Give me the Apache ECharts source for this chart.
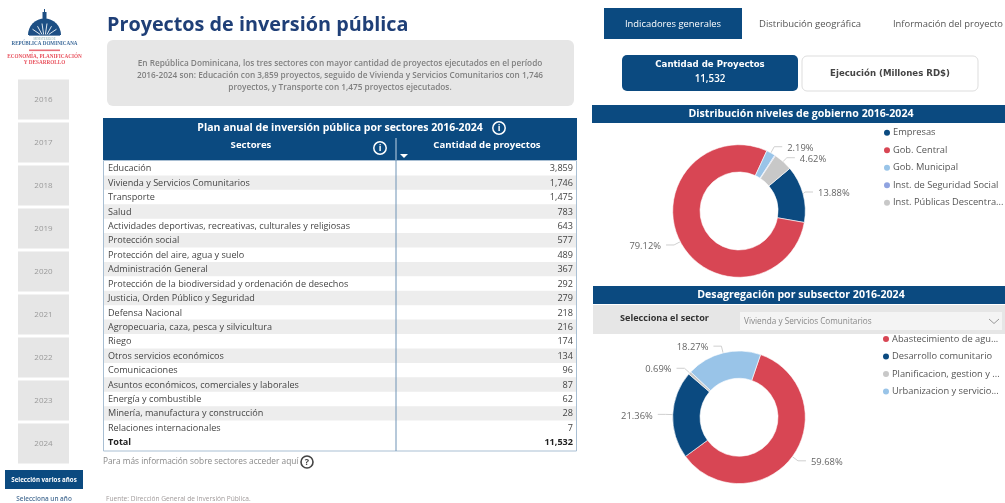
<!DOCTYPE html>
<html><head><meta charset="utf-8">
<style>html,body{margin:0;padding:0;background:#fff}#c{width:1005px;height:503px}</style>
<script src="https://cdn.jsdelivr.net/npm/echarts@6/dist/echarts.min.js"></script>
</head><body><div id="c"></div>
<script>
const years = ['2016','2017','2018','2019','2020','2021','2022','2023','2024'];
const sectors = ['Educación','Vivienda y Servicios Comunitarios','Transporte','Salud','Actividades deportivas, recreativas, culturales y religiosas','Protección social','Protección del aire, agua y suelo','Administración General','Protección de la biodiversidad y ordenación de desechos','Justicia, Orden Público y Seguridad','Defensa Nacional','Agropecuaria, caza, pesca y silvicultura','Riego','Otros servicios económicos','Comunicaciones','Asuntos económicos, comerciales y laborales','Energía y combustible','Minería, manufactura y construcción','Relaciones internacionales'];
const projects = [3859,1746,1475,783,643,577,489,367,292,279,218,216,174,134,96,87,62,28,7];
const totalProjects = 11532;
const govNames = ['Empresas','Gob. Central','Gob. Municipal','Inst. de Seguridad Social','Inst. Públicas Descentra...'];
const govShares = [13.88,79.12,2.19,0.19,4.62];
const subNames = ['Abastecimiento de agu...','Desarrollo comunitario','Planificacion, gestion y ...','Urbanizacion y servicio...'];
const subShares = [59.68,21.36,0.69,18.27];
const summaryLines = ['En República Dominicana, los tres sectores con mayor cantidad de proyectos ejecutados en el período','2016-2024 son: Educación con 3,859 proyectos, seguido de Vivienda y Servicios Comunitarios con 1,746','proyectos, y Transporte con 1,475 proyectos ejecutados.'];

const NAVY='#0B4A80', RED='#D84654', LBLUE='#99C4E8', GREY='#C8C8C8', PERI='#8FA3E0', PANEL='#E6E6E6';
const FF='"Open Sans"';
const els=[];
const rect=(x,y,w,h,fill,r,stroke)=>els.push({type:'rect',shape:{x,y,width:w,height:h,r:r||0},style:{fill,stroke:stroke||null,lineWidth:stroke?1:0},silent:true});
const text=(x,y,t,size,color,o)=>{o=o||{};els.push({type:'text',x,y,silent:true,style:{text:t,font:(o.w||'normal')+' '+size+'px '+(o.ff||FF),fill:color,textAlign:o.a||'left',textVerticalAlign:'middle'}})};
const line=(x1,y1,x2,y2,c,w)=>els.push({type:'line',shape:{x1,y1,x2,y2},style:{stroke:c,lineWidth:w||1},silent:true});
const info=(x,y)=>{els.push({type:'circle',shape:{cx:x,cy:y,r:6.2},style:{fill:null,stroke:'#fff',lineWidth:1.5},silent:true});text(x,y,'i',9,'#fff',{w:'bold',a:'center'})};

// Logo
text(44.5,39.5,'MINISTERIO DE',3,'#8aa',{a:'center',ff:'"Liberation Serif"'});
els.push({type:'sector',shape:{cx:44.5,cy:35,r0:0,r:16.5,startAngle:Math.PI,endAngle:2*Math.PI},style:{fill:'#1d4f84'},silent:true});
[-12,-7,-2.5,2.5,7,12].forEach(d=>line(44.5+d*0.35,34.5,44.5+d,22+Math.abs(d)*0.6,'#dfe8f0',1));
rect(42.5,12,4,7,'#1d4f84');rect(44,9,1,3,'#1d4f84');
rect(29,35,31,1,'#6f8fb0');
text(44.5,44,'REPÚBLICA DOMINICANA',5.1,'#3d6a9a',{a:'center',ff:'"Liberation Serif"',w:'bold'});
rect(29,49.5,31,1.6,'#E8707A');
text(44.5,57,'ECONOMÍA, PLANIFICACIÓN',5.2,'#E8505C',{a:'center',ff:'"Liberation Serif"',w:'bold'});
text(44.5,63,'Y DESARROLLO',5.2,'#E8505C',{a:'center',ff:'"Liberation Serif"',w:'bold'});

// Year buttons
years.forEach((y,i)=>{const t=79.5+i*43;rect(18,t,51,40,PANEL);text(43.5,t+20.5,y,8,'#9a9a9a',{a:'center'})});
rect(5,470,78,19,NAVY);
text(44,480,'Selección varios años',6.2,'#fff',{a:'center',w:'bold'});
text(44,499.5,'Selecciona un año',6.4,'#4a6f95',{a:'center',w:'600'});

// Title and summary
text(107,25,'Proyectos de inversión pública',19.8,'#1F3F77',{w:'bold'});
rect(107,40,467,66,PANEL,6);
summaryLines.forEach((s,i)=>text(340,63.7+i*11.8,s,8.25,'#808080',{a:'center',w:'600'}));

// Table
rect(103,118,474,42,NAVY);
text(340,128,'Plan anual de inversión pública por sectores 2016-2024',10.5,'#fff',{a:'center',w:'bold'});
info(499,128);
text(251,145,'Sectores',9.6,'#fff',{a:'center',w:'bold'});
info(380,148);
text(487,145,'Cantidad de proyectos',9.6,'#fff',{a:'center',w:'bold'});
els.push({type:'polygon',shape:{points:[[400,154],[408,154],[404,158]]},style:{fill:'#fff'},silent:true});
const rowTop=161,rowH=14.42;
const tableNames=sectors.concat(['Total']),tableVals=projects.concat([totalProjects]);
tableNames.forEach((n,i)=>{
  const t=rowTop+i*rowH,isT=i===sectors.length;
  if(i%2===1&&!isT)rect(104,t,472,rowH,'#EDEDED');
  text(108,t+rowH/2+0.5,n,9.1,isT?'#222':'#444',{w:isT?'bold':'normal'});
  text(573,t+rowH/2+0.5,tableVals[i].toLocaleString('en-US'),9.1,isT?'#222':'#444',{a:'right',w:isT?'bold':'normal'});
});
rect(103.5,160.5,473,290.5,null,0,'#A9BFD3');
line(396,138,396,451,'#6E93B5',1);
line(396,138,396,160,'#8FB0CC',1);
text(103,462,'Para más información sobre sectores acceder aquí',8.3,'#888');
els.push({type:'circle',shape:{cx:307,cy:462,r:6},style:{fill:'#fff',stroke:'#444',lineWidth:1.6},silent:true});
text(307,462,'?',9,'#444',{a:'center',w:'bold'});
text(106,499.5,'Fuente: Dirección General de Inversión Pública.',6.6,'#a09a9a');

// Tabs and cards
rect(604,8,138,31,NAVY);
text(673,24,'Indicadores generales',9.4,'#fff',{a:'center'});
text(810,24,'Distribución geográfica',9.5,'#555',{a:'center'});
text(948,24,'Información del proyecto',9.4,'#555',{a:'center'});
rect(622,55,176,36,NAVY,5);
text(710,65,'Cantidad de Proyectos',8.6,'#fff',{a:'center',w:'bold',ff:'"DejaVu Sans"'});
text(710,79,'11,532',9.8,'#fff',{a:'center',w:'600'});
rect(802,56,176,35,'#fff',5,'#DDDDDD');
text(890,73.5,'Ejecución (Millones RD$)',8.6,'#444',{a:'center',w:'bold',ff:'"DejaVu Sans"'});

// Section headers
rect(592,105,413,18,NAVY);
text(801,114,'Distribución niveles de gobierno 2016-2024',10.6,'#fff',{a:'center',w:'bold'});
rect(593,286,412,18,NAVY);
text(801,295,'Desagregación por subsector 2016-2024',10.6,'#fff',{a:'center',w:'bold'});
rect(593,305,412,29,PANEL);
text(620,318,'Selecciona el sector',9.1,'#333',{w:'bold'});
rect(740,312,262,18,'#F4F4F4');
text(744,321.5,'Vivienda y Servicios Comunitarios',8.2,'#888');
els.push({type:'polyline',shape:{points:[[989,319],[994,323.5],[999,319]]},style:{stroke:'#999',lineWidth:1,fill:null},silent:true});

const pieCommon={type:'pie',radius:[39,66.3],silent:true,avoidLabelOverlap:true,clockwise:true,
  itemStyle:{borderColor:'#fff',borderWidth:0.6},
  label:{show:true,position:'outside',formatter:p=>p.value.toFixed(2)+'%',color:'#666',fontFamily:FF,fontSize:9.4},
  labelLine:{show:true,length:7,length2:8,smooth:false,lineStyle:{color:'#CFCFCF',width:1}},
  labelLayout:{dy:1.5}};
const chart=echarts.init(document.getElementById('c'),null,{renderer:'canvas',width:1005,height:503});
const legendCommon={orient:'vertical',icon:'circle',itemWidth:8,itemHeight:8,itemGap:7.5,selectedMode:false,
  textStyle:{color:'#555',fontFamily:FF,fontSize:9.3,lineHeight:10,padding:[0,0,0,-3]},padding:0};
chart.setOption({
  animation:false,
  legend:[
    Object.assign({},legendCommon,{seriesIndex:0,data:govNames,left:882,top:127.7}),
    Object.assign({},legendCommon,{data:subNames,left:881,top:334})
  ],
  graphic:{elements:els},
  series:[
    Object.assign({},pieCommon,{center:[739,211],startAngle:40,
      color:[NAVY,RED,LBLUE,PERI,GREY],
      data:govNames.map((n,i)=>({name:n,value:govShares[i],label:{show:n!==govNames[3]},labelLine:{show:n!==govNames[3]}}))}),
    Object.assign({},pieCommon,{center:[739,417.3],startAngle:71,
      color:[RED,NAVY,GREY,LBLUE],
      data:subNames.map((n,i)=>({name:n,value:subShares[i]}))})
  ]
});
</script></body></html>
